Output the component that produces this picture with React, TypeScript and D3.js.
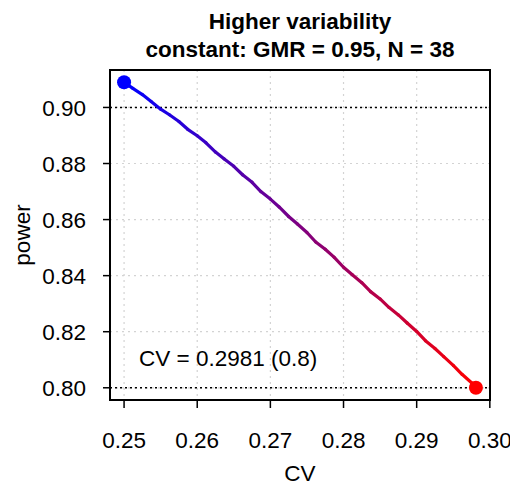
import React from "react";
import * as d3 from "d3";

const cvValues = [0.25, 0.2512, 0.2525, 0.2537, 0.255, 0.2562, 0.2575, 0.2587, 0.26, 0.2612, 0.2625, 0.2637, 0.265, 0.2662, 0.2675, 0.2687, 0.27, 0.2712, 0.2725, 0.2737, 0.275, 0.2762, 0.2775, 0.2787, 0.28, 0.2812, 0.2825, 0.2837, 0.285, 0.2862, 0.2875, 0.2887, 0.29, 0.2912, 0.2925, 0.2937, 0.295, 0.2962, 0.2975, 0.2981];
const powerValues = [0.909, 0.9068, 0.9046, 0.9021, 0.8994, 0.8974, 0.895, 0.8922, 0.8899, 0.8874, 0.8841, 0.8816, 0.879, 0.876, 0.8733, 0.87, 0.8673, 0.8645, 0.8611, 0.8584, 0.8554, 0.852, 0.8494, 0.8466, 0.843, 0.8403, 0.8375, 0.8343, 0.8317, 0.8287, 0.826, 0.8231, 0.8201, 0.8168, 0.814, 0.8111, 0.808, 0.8048, 0.8018, 0.8];
const xTicks = [0.25, 0.26, 0.27, 0.28, 0.29, 0.3];
const yTicks = [0.8, 0.82, 0.84, 0.86, 0.88, 0.9];
const refLines = [0.9, 0.8];
const titleLines = ["Higher variability", "constant: GMR = 0.95, N = 38"];
const annotation = "CV = 0.2981 (0.8)";

export default function App() {
  const W = 510, H = 485;
  const left = 110, right = 490, top = 70, bottom = 400;
  const xmin = d3.min(cvValues)!, xmax = d3.max(cvValues)!;
  const ymin = d3.min(powerValues)!, ymax = d3.max(powerValues)!;
  const xr = xmax - xmin, yr = ymax - ymin;
  const x = d3.scaleLinear().domain([xmin - 0.04 * xr, xmax + 0.04 * xr]).range([left, right]);
  const y = d3.scaleLinear().domain([ymin - 0.04 * yr, ymax + 0.04 * yr]).range([bottom, top]);
  const color = d3.interpolateRgb("blue", "red");
  const font = "'Liberation Sans', Arial, Helvetica, sans-serif";
  const fs = 22.5;
  const n = cvValues.length;
  const segs = d3.range(n - 1).map((i) => ({
    x1: x(cvValues[i]), y1: y(powerValues[i]), x2: x(cvValues[i + 1]), y2: y(powerValues[i + 1]),
    c: color(i / (n - 2)),
  }));
  return (
    <svg width={W} height={H} style={{ position: "absolute", left: 0, top: 0, background: "white" }} fontFamily={font}>
      <rect x={0} y={0} width={W} height={H} fill="white" />
      {xTicks.map((t) => (
        <line key={"gx" + t} x1={x(t)} x2={x(t)} y1={top} y2={bottom} stroke="#d3d3d3" strokeWidth={1.2} strokeDasharray="2,4" />
      ))}
      {yTicks.map((t) => (
        <line key={"gy" + t} x1={left} x2={right} y1={y(t)} y2={y(t)} stroke="#d3d3d3" strokeWidth={1.2} strokeDasharray="2,4" />
      ))}
      {refLines.map((t) => (
        <line key={"r" + t} x1={left} x2={right} y1={y(t)} y2={y(t)} stroke="black" strokeWidth={1.5} strokeDasharray="2,3" />
      ))}
      {segs.map((s, i) => (
        <line key={"s" + i} x1={s.x1} y1={s.y1} x2={s.x2} y2={s.y2} stroke={s.c} strokeWidth={3.2} strokeLinecap="round" />
      ))}
      <circle cx={x(cvValues[0])} cy={y(powerValues[0])} r={7} fill="blue" />
      <circle cx={x(cvValues[n - 1])} cy={y(powerValues[n - 1])} r={7} fill="red" />
      <rect x={left} y={top} width={right - left} height={bottom - top} fill="none" stroke="black" strokeWidth={2} />
      {xTicks.map((t) => (
        <g key={"xt" + t}>
          <line x1={x(t)} x2={x(t)} y1={bottom} y2={bottom + 8} stroke="black" strokeWidth={1.5} />
          <text x={x(t)} y={448} textAnchor="middle" fontSize={fs}>{t.toFixed(2)}</text>
        </g>
      ))}
      {yTicks.map((t) => (
        <g key={"yt" + t}>
          <line x1={left - 7} x2={left} y1={y(t)} y2={y(t)} stroke="black" strokeWidth={1.5} />
          <text x={86} y={y(t)} dy="0.36em" textAnchor="end" fontSize={fs}>{t.toFixed(2)}</text>
        </g>
      ))}
      <text x={300} y={481} textAnchor="middle" fontSize={fs}>CV</text>
      <text transform={`translate(30,235) rotate(-90)`} textAnchor="middle" fontSize={fs}>power</text>
      <text x={300} y={29} textAnchor="middle" fontSize={fs} fontWeight="bold">{titleLines[0]}</text>
      <text x={300} y={57} textAnchor="middle" fontSize={fs} fontWeight="bold">{titleLines[1]}</text>
      <text x={139} y={366} fontSize={fs}>{annotation}</text>
    </svg>
  );
}
